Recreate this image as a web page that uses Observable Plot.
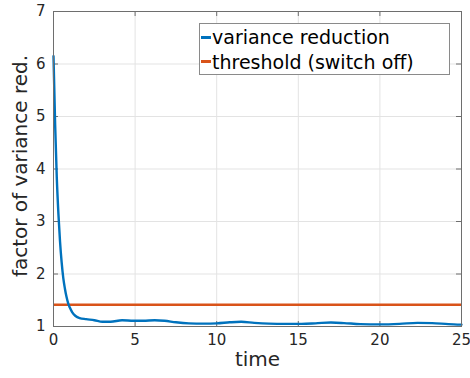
<!DOCTYPE html>
<html>
<head>
<meta charset="utf-8">
<script src="https://cdn.jsdelivr.net/npm/d3@7"></script>
<script src="https://cdn.jsdelivr.net/npm/@observablehq/plot@0.6"></script>
<style>
  html, body { margin: 0; padding: 0; background: #fff; }
  #wrap { position: relative; width: 470px; height: 378px; font-family: "DejaVu Sans", sans-serif; }
  #legend { position: absolute; left: 199px; top: 23px; width: 249px; height: 50px; border: 1px solid #8a8a8a; background: #fff; }
  .row { position: absolute; left: 0; height: 22px; display: flex; align-items: center; font-size: 19px; color: #000; white-space: nowrap; }
  .sw { width: 10px; height: 3px; margin-left: 1px; margin-right: 1px; }
</style>
</head>
<body>
<div id="wrap"></div>
<script>
// Data
const times = [0, 0.1, 0.2, 0.3, 0.4, 0.5, 0.6, 0.7, 0.8, 0.9, 1.0, 1.15, 1.35, 1.6, 2.0, 2.5, 3.0, 3.5, 4.2, 4.9, 5.5, 6.2, 6.8, 7.5, 8.3, 9.2, 10.0, 10.8, 11.5, 12.3, 13.2, 14.2, 15.2, 16.2, 17.0, 17.8, 18.8, 20.0, 21.2, 22.3, 23.2, 24.2, 25];
const varianceReduction = [6.15, 4.85, 3.85, 3.15, 2.62, 2.22, 1.92, 1.72, 1.56, 1.44, 1.36, 1.27, 1.2, 1.16, 1.14, 1.12, 1.09, 1.09, 1.12, 1.11, 1.11, 1.12, 1.11, 1.08, 1.06, 1.055, 1.06, 1.08, 1.09, 1.07, 1.055, 1.05, 1.05, 1.065, 1.075, 1.065, 1.045, 1.04, 1.05, 1.07, 1.065, 1.045, 1.035];
const thresholdValue = 1.414;
const xTicks = [0, 5, 10, 15, 20, 25];
const yTicks = [1, 2, 3, 4, 5, 6, 7];
const seriesNames = ["variance reduction", "threshold (switch off)"];
const seriesColors = ["#0072BD", "#D95319"];

const W = 470, H = 378, mL = 53, mR = 9, mT = 11, mB = 52;
const plotW = W - mL - mR, plotH = H - mT - mB;
const tickLen = 5;
const axisColor = "#6e6e6e";

const data = times.map((t, i) => ({t, v: varianceReduction[i]}));

const chart = Plot.plot({
  width: W, height: H,
  marginLeft: mL, marginRight: mR, marginTop: mT, marginBottom: mB,
  style: {fontFamily: "DejaVu Sans, sans-serif", fontSize: "15px", color: "#262626", background: "transparent"},
  x: {domain: [0, 25]},
  y: {domain: [1, 7]},
  marks: [
    Plot.gridX(xTicks, {stroke: "#e3e3e3", strokeOpacity: 1}),
    Plot.gridY(yTicks, {stroke: "#e3e3e3", strokeOpacity: 1}),
    Plot.axisX(xTicks, {tickSize: 0, tickPadding: 8, label: null, tickFormat: d => String(d)}),
    Plot.axisY(yTicks, {tickSize: 0, tickPadding: 8, label: null, tickFormat: d => String(d)}),
    Plot.tickX(xTicks, {x: d => d, insetTop: plotH - tickLen, stroke: axisColor}),
    Plot.tickX(xTicks, {x: d => d, insetBottom: plotH - tickLen, stroke: axisColor}),
    Plot.tickY(yTicks, {y: d => d, insetRight: plotW - tickLen, stroke: axisColor}),
    Plot.tickY(yTicks, {y: d => d, insetLeft: plotW - tickLen, stroke: axisColor}),
    Plot.ruleY([thresholdValue], {stroke: seriesColors[1], strokeWidth: 2.4}),
    Plot.line(data, {x: "t", y: "v", stroke: seriesColors[0], strokeWidth: 2.4, curve: "monotone-x"}),
    Plot.frame({stroke: axisColor, strokeWidth: 1}),
    Plot.text(["time"], {frameAnchor: "bottom", dy: 39, fontSize: 20, fill: "#262626"}),
    Plot.text(["factor of variance red."], {frameAnchor: "left", textAnchor: "middle", rotate: -90, dx: -32.5, dy: -3, fontSize: 20, fill: "#262626"})
  ]
});

const wrap = document.getElementById("wrap");
wrap.appendChild(chart);

const legend = document.createElement("div");
legend.id = "legend";
seriesNames.forEach((name, i) => {
  const row = document.createElement("div");
  row.className = "row";
  row.style.top = (i === 0 ? 2 : 26.5) + "px";
  const sw = document.createElement("span");
  sw.className = "sw";
  sw.style.background = seriesColors[i];
  const tx = document.createElement("span");
  tx.textContent = name;
  row.appendChild(sw);
  row.appendChild(tx);
  legend.appendChild(row);
});
wrap.appendChild(legend);
</script>
</body>
</html>
